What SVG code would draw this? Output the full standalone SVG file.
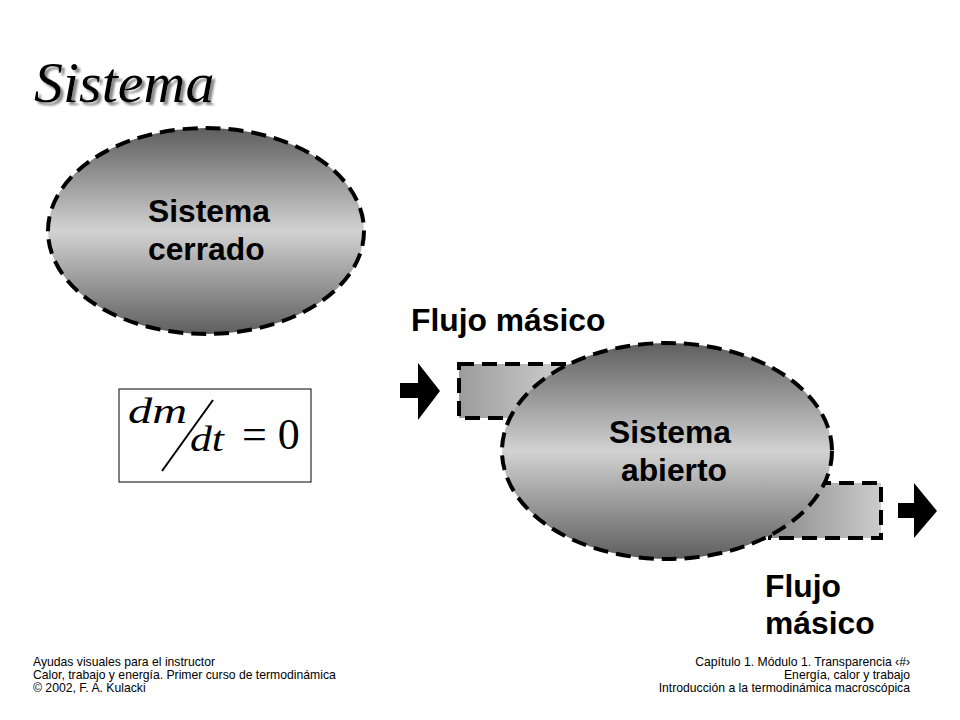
<svg xmlns="http://www.w3.org/2000/svg" width="960" height="720" viewBox="0 0 960 720">
<defs>
<linearGradient id="gEll" x1="0" y1="0" x2="0" y2="1">
<stop offset="0" stop-color="#5e5e5e"/>
<stop offset="0.5" stop-color="#d2d2d2"/>
<stop offset="1" stop-color="#5e5e5e"/>
</linearGradient>
<linearGradient id="gRect" x1="0" y1="0" x2="1" y2="0">
<stop offset="0" stop-color="#9c9c9c"/>
<stop offset="1" stop-color="#d0d0d0"/>
</linearGradient>
<linearGradient id="gRect2" x1="0" y1="0" x2="1" y2="0">
<stop offset="0" stop-color="#8a8a8a"/>
<stop offset="1" stop-color="#cccccc"/>
</linearGradient>
<filter id="shadow" x="-10%" y="-20%" width="130%" height="150%">
<feDropShadow dx="3" dy="3" stdDeviation="0.8" flood-color="#888888" flood-opacity="1"/>
</filter>
</defs>
<style>
.dash{stroke:#000;stroke-width:4;stroke-dasharray:15 8;}
.lbl{font-family:"Liberation Sans",Arial,sans-serif;font-weight:bold;font-size:31.8px;fill:#000;}
.foot{font-family:"Liberation Sans",Arial,sans-serif;font-size:12.2px;fill:#000;}
.math{font-family:"Liberation Serif","Times New Roman",serif;fill:#000;}
</style>
<rect width="960" height="720" fill="#fff"/>

<g id="title">
<text x="34" y="102" font-family="Liberation Serif,'Times New Roman',serif" font-style="italic" font-size="58" fill="#000" filter="url(#shadow)">Sistema</text>
</g>

<g id="closed-system">
<ellipse cx="206" cy="231" rx="158" ry="103" fill="url(#gEll)" class="dash"/>
<text class="lbl" x="148" y="222">Sistema</text>
<text class="lbl" x="148" y="260">cerrado</text>
</g>

<g id="formula">
<rect x="119" y="389" width="192" height="93" fill="#fff" stroke="#000" stroke-width="1"/>
<text class="math" x="128" y="423" font-style="italic" font-size="36" textLength="59" lengthAdjust="spacingAndGlyphs">dm</text>
<line x1="162" y1="471" x2="213" y2="400" stroke="#000" stroke-width="2"/>
<text class="math" x="190" y="451" font-style="italic" font-size="36" textLength="34" lengthAdjust="spacingAndGlyphs">dt</text>
<text class="math" x="242" y="449" font-size="44">= 0</text>
</g>

<g id="open-system">
<rect x="459" y="364" width="110" height="54" fill="url(#gRect)" class="dash"/>
<rect x="770" y="483" width="111" height="55" fill="url(#gRect2)" class="dash"/>
<ellipse cx="667" cy="451" rx="165" ry="108" fill="url(#gEll)" class="dash"/>
<text class="lbl" x="609" y="443">Sistema</text>
<text class="lbl" x="621" y="481">abierto</text>
</g>

<g id="connectors">
<polygon points="400,383 418,383 418,363 440,391 418,420 418,398 400,398" fill="#000"/>
<polygon points="898,503 914,503 914,483 937,511 914,538 914,518 898,518" fill="#000"/>
</g>

<g id="labels">
<text class="lbl" x="411" y="331">Flujo másico</text>
<text class="lbl" x="765" y="597">Flujo</text>
<text class="lbl" x="765" y="634">másico</text>
</g>

<g id="footer">
<text class="foot" x="33" y="666">Ayudas visuales para el instructor</text>
<text class="foot" x="33" y="679">Calor, trabajo y energía.  Primer curso de termodinámica</text>
<text class="foot" x="33" y="692">© 2002, F. A. Kulacki</text>
<text class="foot" x="910" y="666" text-anchor="end">Capítulo 1. Módulo 1.  Transparencia ‹#›</text>
<text class="foot" x="910" y="679" text-anchor="end">Energía, calor y trabajo</text>
<text class="foot" x="910" y="692" text-anchor="end">Introducción a la termodinámica macroscópica</text>
</g>
</svg>
